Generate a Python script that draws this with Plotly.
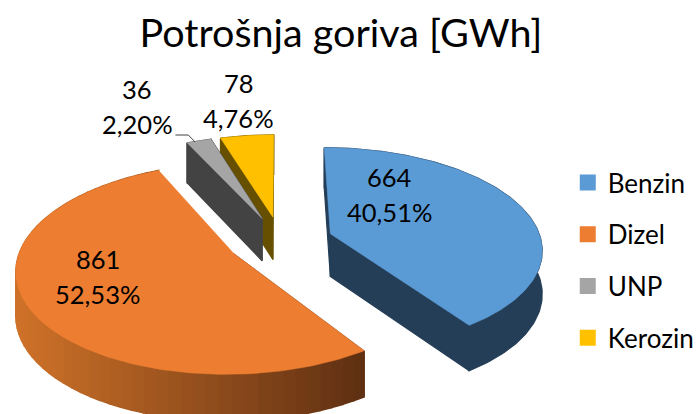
import math
import plotly.graph_objects as go

# ---- data ----
categories = ["Benzin", "Dizel", "UNP", "Kerozin"]
values = [664, 861, 36, 78]
title_text = "Potrošnja goriva [GWh]"

# ---- style ----
top_colors = ["#5B9BD5", "#ED7D31", "#A5A5A5", "#FFC000"]
side_colors = ["#243E57", None, "#434343", "#665000"]
FONT = "Lato"
TEXT = "#000000"

# ---- 3D pie projection parameters ----
VX, VY = 284.5, 241      # screen centre of the pie
RX, RY = 214, 100        # radii of the disc at the reference depth
P = 0.14                 # perspective strength
H = 43                   # extrusion height
EXPLODE = 0.25           # slice explosion, in radii


def project(x, y):
    w = 1 + P * y
    return VX + RX * x / w, VY - RY * y / w, w


def slice_outline(a0, a1, explode):
    mid = math.radians((a0 + a1) / 2)
    ox, oy = explode * math.sin(mid), explode * math.cos(mid)
    n = max(2, int(abs(a1 - a0)) + 1)
    arc = []
    for i in range(n + 1):
        t = math.radians(a0 + (a1 - a0) * i / n)
        arc.append(project(ox + math.sin(t), oy + math.cos(t)))
    return project(ox, oy), arc


def drop(p):
    return p[0], p[1] + H / math.sqrt(p[2])


def lerp_hex(c1, c2, f):
    a = [int(c1[i:i + 2], 16) for i in (1, 3, 5)]
    b = [int(c2[i:i + 2], 16) for i in (1, 3, 5)]
    return "#%02X%02X%02X" % tuple(round(u + (v - u) * f) for u, v in zip(a, b))


def poly(fig, pts, color, lw=0.6):
    xs = [p[0] for p in pts] + [pts[0][0]]
    ys = [p[1] for p in pts] + [pts[0][1]]
    fig.add_trace(go.Scatter(x=xs, y=ys, mode="lines", fill="toself", fillcolor=color,
                             line=dict(color=color, width=lw), hoverinfo="skip",
                             showlegend=False))


fig = go.Figure()

total = sum(values)
angles = []
cum = 0.0
for v in values:
    a0 = cum / total * 360
    cum += v
    angles.append((a0, cum / total * 360))

# far slices first, near slices last
for idx in [3, 2, 0, 1]:
    a0, a1 = angles[idx]
    apex, arc = slice_outline(a0, a1, EXPLODE)
    side = side_colors[idx]
    xmin = min(p[0] for p in arc)
    xmax = max(p[0] for p in arc)
    if side is not None:
        poly(fig, [apex, arc[0], drop(arc[0]), drop(apex)], side, lw=1.2)
        poly(fig, [apex, arc[-1], drop(arc[-1]), drop(apex)], side, lw=1.2)
        poly(fig, arc + [drop(p) for p in reversed(arc)], side, lw=1.2)
    else:
        poly(fig, [apex, arc[0], drop(arc[0]), drop(apex)], "#5E2F12")
        step = 3
        for j in range(0, len(arc) - 1, step):
            p, q = arc[j], arc[min(j + step, len(arc) - 1)]
            f = ((p[0] + q[0]) / 2 - xmin) / (xmax - xmin)
            col = lerp_hex("#CF7229", "#5E2F12", f)
            poly(fig, [p, q, drop(q), drop(p)], col, lw=1.5)
    poly(fig, [apex] + arc, top_colors[idx])

# leader line of the UNP label
fig.add_trace(go.Scatter(x=[178, 191, 198], y=[135, 135, 142], mode="lines",
                         line=dict(color="#404040", width=1), hoverinfo="skip",
                         showlegend=False))

# data labels, text built from the values
label_pos = [(395, 194.5), (99, 276.5), (139, 106.5), (242, 100)]
LINE_GAP = 17.5
for v, (lx, ly) in zip(values, label_pos):
    pct = f"{v / total * 100:.2f}".replace(".", ",")
    for txt, dy in ((f"{v}", -LINE_GAP), (f"{pct}%", LINE_GAP)):
        fig.add_annotation(x=lx, y=ly + dy, xref="x", yref="y", text=txt,
                           showarrow=False, align="center",
                           font=dict(family=FONT, size=25.5, color=TEXT))

# legend
for i, name in enumerate(categories):
    fig.add_trace(go.Scatter(x=[None], y=[None], mode="markers", name=name,
                             legendgroup=name,
                             marker=dict(symbol="square", size=16, color=top_colors[i])))

fig.update_layout(
    width=699, height=414, autosize=False,
    margin=dict(l=0, r=0, t=0, b=0),
    paper_bgcolor="white", plot_bgcolor="white",
    title=dict(text=title_text, x=341 / 699, xanchor="center", y=1 - 33 / 414, yanchor="middle",
               font=dict(family=FONT, size=39.5, color=TEXT)),
    xaxis=dict(range=[0, 699], visible=False, fixedrange=True),
    yaxis=dict(range=[414, 0], visible=False, fixedrange=True),
    legend=dict(x=576 / 699, xanchor="left", y=1 - 159 / 414, yanchor="top",
                font=dict(family=FONT, size=26, color=TEXT),
                tracegroupgap=15, itemclick=False, itemdoubleclick=False,
                bgcolor="rgba(0,0,0,0)"),
    showlegend=True,
)

fig.write_html("out.html", config=dict(displayModeBar=False),
               post_script="document.body.style.margin='0';document.documentElement.style.overflow='hidden';")
